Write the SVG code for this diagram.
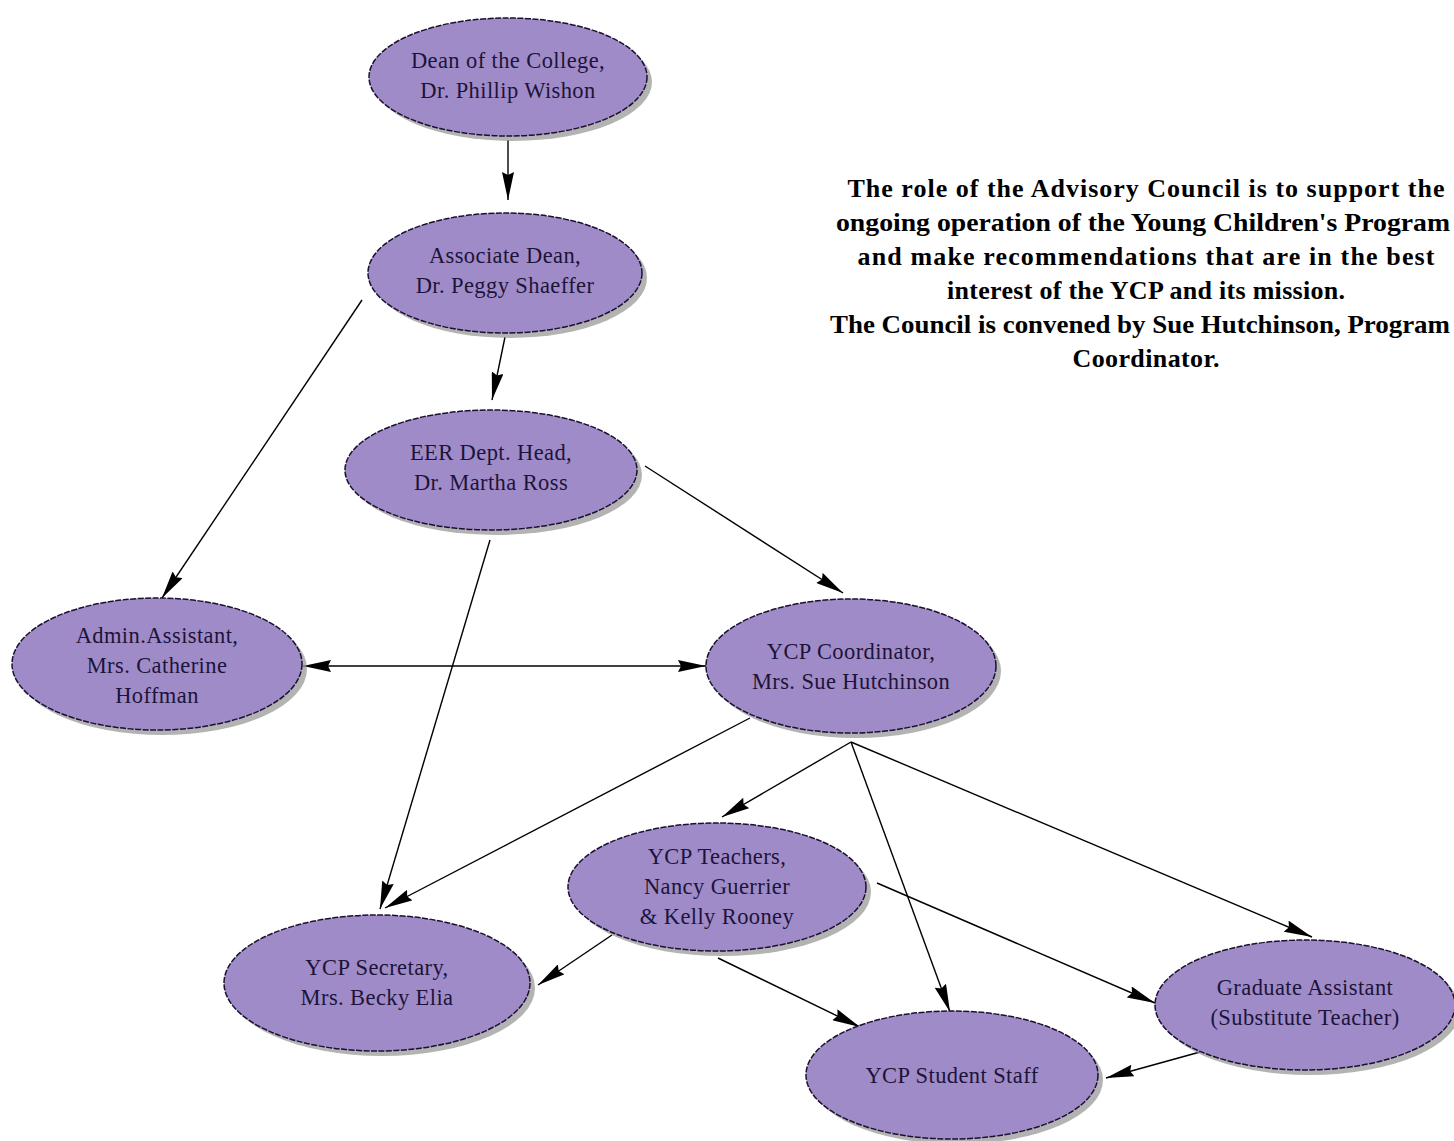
<svg xmlns="http://www.w3.org/2000/svg" width="1454" height="1141" viewBox="0 0 1454 1141">
<defs>
<style>
.node ellipse.body{fill:#a08bc9;stroke:#1a1030;stroke-width:1.5;stroke-dasharray:6 1.5}
.node ellipse.shadow{fill:#9a9a9a;opacity:0.75}
.node text{font-family:"Liberation Serif","Times New Roman",serif;font-size:22.5px;letter-spacing:0.4px;fill:#1c1438;text-anchor:middle}
.edges line{stroke:#000;stroke-width:1.4;fill:none}
.note text{font-family:"Liberation Serif","Times New Roman",serif;font-size:26px;font-weight:bold;fill:#000;text-anchor:middle}
</style>
<marker id="ah" viewBox="0 0 28 12" refX="28" refY="6" markerWidth="28" markerHeight="12" markerUnits="userSpaceOnUse" orient="auto-start-reverse">
<path d="M0,0 L28,6 L0,12 L3,6 z" fill="#000"/>
</marker>
</defs>
<rect width="1454" height="1141" fill="#fff"/>

<g class="edges">
<line x1="508" y1="140" x2="508" y2="200" marker-end="url(#ah)"/>
<line x1="362" y1="300" x2="162" y2="598" marker-end="url(#ah)"/>
<line x1="505" y1="337" x2="492" y2="400" marker-end="url(#ah)"/>
<line x1="645" y1="466" x2="843" y2="593" marker-end="url(#ah)"/>
<line x1="490" y1="540" x2="380" y2="909" marker-end="url(#ah)"/>
<line x1="303" y1="666" x2="706" y2="666" marker-start="url(#ah)" marker-end="url(#ah)"/>
<line x1="750" y1="718" x2="385" y2="908" marker-end="url(#ah)"/>
<line x1="851" y1="742" x2="722" y2="817" marker-end="url(#ah)"/>
<line x1="851" y1="742" x2="950" y2="1012" marker-end="url(#ah)"/>
<line x1="851" y1="742" x2="1312" y2="937" marker-end="url(#ah)"/>
<line x1="612" y1="935" x2="538" y2="985" marker-end="url(#ah)"/>
<line x1="877" y1="883" x2="1155" y2="1003" marker-end="url(#ah)"/>
<line x1="718" y1="958" x2="860" y2="1027" marker-end="url(#ah)"/>
<line x1="1200" y1="1052" x2="1106" y2="1078" marker-end="url(#ah)"/>
</g>

<g id="dean" class="node">
<ellipse class="shadow" cx="513" cy="82" rx="139" ry="59"/>
<ellipse class="body" cx="508" cy="77" rx="139" ry="59"/>
<text x="508" y="68">Dean of the College,</text>
<text x="508" y="98">Dr. Phillip Wishon</text>
</g>

<g id="assocdean" class="node">
<ellipse class="shadow" cx="510" cy="278" rx="137" ry="60"/>
<ellipse class="body" cx="505" cy="273" rx="137" ry="60"/>
<text x="505" y="263">Associate Dean,</text>
<text x="505" y="293">Dr. Peggy Shaeffer</text>
</g>

<g id="eer" class="node">
<ellipse class="shadow" cx="496" cy="475" rx="146" ry="60"/>
<ellipse class="body" cx="491" cy="470" rx="146" ry="60"/>
<text x="491" y="460">EER Dept. Head,</text>
<text x="491" y="490">Dr. Martha Ross</text>
</g>

<g id="admin" class="node">
<ellipse class="shadow" cx="162" cy="669" rx="145" ry="66"/>
<ellipse class="body" cx="157" cy="664" rx="145" ry="66"/>
<text x="157" y="643">Admin.Assistant,</text>
<text x="157" y="673">Mrs. Catherine</text>
<text x="157" y="703">Hoffman</text>
</g>

<g id="coordinator" class="node">
<ellipse class="shadow" cx="856" cy="671" rx="145" ry="67"/>
<ellipse class="body" cx="851" cy="666" rx="145" ry="67"/>
<text x="851" y="659">YCP Coordinator,</text>
<text x="851" y="689">Mrs. Sue Hutchinson</text>
</g>

<g id="teachers" class="node">
<ellipse class="shadow" cx="722" cy="892" rx="149" ry="64"/>
<ellipse class="body" cx="717" cy="887" rx="149" ry="64"/>
<text x="717" y="864">YCP Teachers,</text>
<text x="717" y="894">Nancy Guerrier</text>
<text x="717" y="924">&amp; Kelly Rooney</text>
</g>

<g id="secretary" class="node">
<ellipse class="shadow" cx="382" cy="988" rx="153" ry="68"/>
<ellipse class="body" cx="377" cy="983" rx="153" ry="68"/>
<text x="377" y="975">YCP Secretary,</text>
<text x="377" y="1005">Mrs. Becky Elia</text>
</g>

<g id="graduate" class="node">
<ellipse class="shadow" cx="1310" cy="1010" rx="150" ry="65"/>
<ellipse class="body" cx="1305" cy="1005" rx="150" ry="65"/>
<text x="1305" y="995">Graduate Assistant</text>
<text x="1305" y="1025">(Substitute Teacher)</text>
</g>

<g id="studentstaff" class="node">
<ellipse class="shadow" cx="957" cy="1080" rx="146" ry="64"/>
<ellipse class="body" cx="952" cy="1075" rx="146" ry="64"/>
<text x="952" y="1083">YCP Student Staff</text>
</g>

<g id="note" class="note">
<text x="1146" y="197" textLength="597" lengthAdjust="spacing">The role of the Advisory Council is to support the</text>
<text x="1143" y="231" textLength="614" lengthAdjust="spacingAndGlyphs">ongoing operation of the Young Children's Program</text>
<text x="1146" y="265" textLength="577" lengthAdjust="spacing">and make recommendations that are in the best</text>
<text x="1146" y="299" textLength="398" lengthAdjust="spacing">interest of the YCP and its mission.</text>
<text x="1140" y="333" textLength="620" lengthAdjust="spacingAndGlyphs">The Council is convened by Sue Hutchinson, Program</text>
<text x="1146" y="367" textLength="147" lengthAdjust="spacing">Coordinator.</text>
</g>
</svg>
